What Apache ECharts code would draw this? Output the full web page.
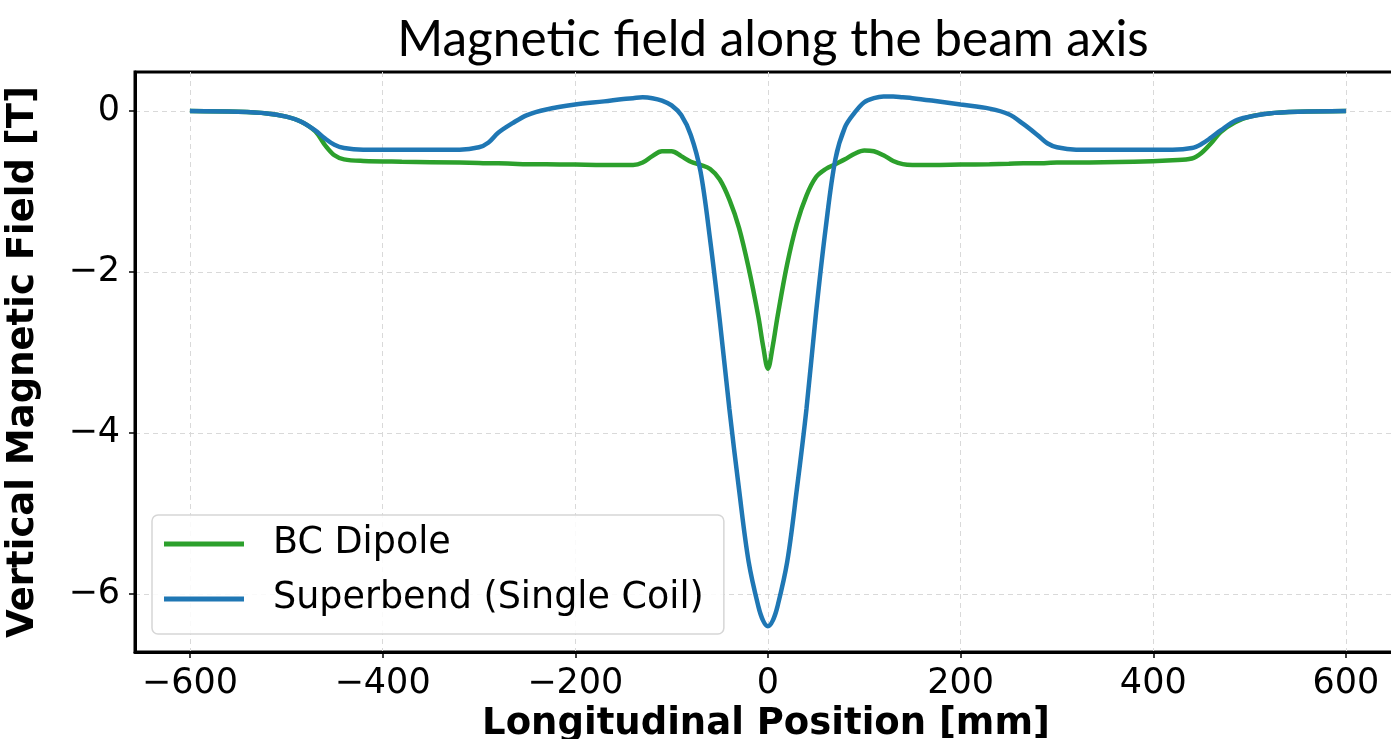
<!DOCTYPE html>
<html lang="en">
<head>
    <meta charset="UTF-8">
    <title>Magnetic field along the beam axis</title>
    <style>
        html, body { margin: 0; padding: 0; background: #fff; }
    </style>
</head>
<body>
    <div id="chart" style="width: 1391px;height:739px;"></div>
    <script src="https://cdn.jsdelivr.net/npm/echarts@6/dist/echarts.min.js"></script>
    <script>
        // positions along the beam axis [mm]
        var positions = [
            -600, -550, -520, -500, -485, -470, -460, -450, -440, -420, -380, -320,
            -300, -290, -280, -265, -250, -230, -200, -170, -150, -140, -130, -120,
            -110, -100, -90, -80, -70, -60, -50, -40, -30, -20, -10, -5, 0,
            5, 10, 20, 30, 40, 50, 60, 70, 80, 90, 100, 110, 120, 130, 140, 150,
            170, 200, 230, 250, 265, 280, 290, 300, 320, 380, 420, 440, 450, 460,
            470, 485, 500, 520, 550, 600
        ]
        // BC Dipole [T]
        var bcDipole = [
            0, -0.01, -0.03, -0.07, -0.13, -0.25, -0.42, -0.55, -0.6, -0.62, -0.63, -0.64,
            -0.645, -0.65, -0.65, -0.655, -0.66, -0.66, -0.665, -0.67, -0.67, -0.67, -0.64, -0.56,
            -0.5, -0.5, -0.56, -0.63, -0.67, -0.72, -0.85, -1.1, -1.45, -1.95, -2.55, -2.92, -3.2,
            -2.92, -2.55, -1.9, -1.4, -1.05, -0.82, -0.72, -0.66, -0.6, -0.53, -0.49, -0.5, -0.55, -0.62, -0.66, -0.67,
            -0.67, -0.665, -0.66, -0.655, -0.65, -0.65, -0.645, -0.64, -0.64, -0.63, -0.61, -0.59, -0.52, -0.4,
            -0.26, -0.14, -0.07, -0.03, -0.01, 0
        ]
        // Superbend (Single Coil) [T]
        var superbend = [
            0, -0.01, -0.03, -0.07, -0.13, -0.24, -0.34, -0.42, -0.46, -0.48, -0.48, -0.48,
            -0.45, -0.39, -0.27, -0.15, -0.05, 0.02, 0.08, 0.12, 0.15, 0.16, 0.17, 0.16,
            0.13, 0.07, -0.05, -0.3, -0.75, -1.6, -2.6, -3.7, -4.7, -5.6, -6.15, -6.33, -6.4,
            -6.33, -6.15, -5.6, -4.7, -3.7, -2.5, -1.45, -0.6, -0.2, -0.02, 0.11, 0.16, 0.18, 0.18, 0.17, 0.16,
            0.13, 0.08, 0.03, -0.04, -0.16, -0.3, -0.4, -0.45, -0.48, -0.48, -0.48, -0.46, -0.41, -0.33,
            -0.24, -0.12, -0.07, -0.03, -0.01, 0
        ]
        var xTicks = [-600, -400, -200, 0, 200, 400, 600]
        var yTicks = [-6, -4, -2, 0]

        var myChart = echarts.init(document.getElementById('chart'))

        function pairs(vals) {
            return positions.map(function (x, i) { return [x, vals[i]] })
        }
        function minus(v) {
            return String(v).replace('-', '\u2212')
        }

        var option = {
            backgroundColor: '#fff',
            animation: false,
            title: {
                text: 'Magnetic field along the beam axis',
                left: 768,
                textAlign: 'center',
                top: 10,
                textStyle: { fontFamily: 'Lato', fontWeight: 'normal', fontSize: 49.5, color: '#000' }
            },
            grid: {
                left: 135, top: 72, right: -6, bottom: 87,
                show: true, borderColor: '#000', borderWidth: 3,
                outerBoundsMode: 'none',
                containLabel: false
            },
            legend: {
                left: 152, top: 515,
                orient: 'vertical',
                icon: 'rect',
                itemWidth: 80, itemHeight: 5, itemGap: 11,
                padding: [7, 20, 13, 12],
                borderColor: '#d6d6d6', borderWidth: 1.5, borderRadius: 6,
                backgroundColor: 'rgba(255,255,255,0.85)',
                textStyle: {
                    fontFamily: 'DejaVu Sans', fontSize: 36.5, color: '#000',
                    lineHeight: 44, padding: [0, 0, 0, 24]
                },
                data: ['BC Dipole', 'Superbend (Single Coil)']
            },
            xAxis: {
                type: 'value',
                min: -657, max: 653,
                name: 'Longitudinal Position [mm]',
                nameLocation: 'middle',
                nameGap: 50,
                nameTextStyle: { fontFamily: 'DejaVu Sans', fontWeight: 'bold', fontSize: 37, color: '#000' },
                axisLine: { show: true, onZero: false, lineStyle: { color: '#000', width: 3 } },
                axisTick: { show: true, length: 6, customValues: xTicks, lineStyle: { color: '#000', width: 1.5 } },
                axisLabel: {
                    customValues: xTicks, margin: 14,
                    fontFamily: 'DejaVu Sans', fontSize: 35, color: '#000',
                    formatter: minus
                },
                splitLine: { show: true, lineStyle: { color: '#d9d9d9', width: 1, type: [5, 4] } }
            },
            yAxis: {
                type: 'value',
                min: -6.72, max: 0.485,
                name: 'Vertical Magnetic Field [T]',
                nameLocation: 'middle',
                nameGap: 93,
                nameRotate: 90,
                nameTextStyle: { fontFamily: 'DejaVu Sans', fontWeight: 'bold', fontSize: 37, color: '#000' },
                axisLine: { show: true, onZero: false, lineStyle: { color: '#000', width: 3 } },
                axisTick: { show: true, length: 6, customValues: yTicks, lineStyle: { color: '#000', width: 1.5 } },
                axisLabel: {
                    customValues: yTicks, margin: 15,
                    fontFamily: 'DejaVu Sans', fontSize: 35, color: '#000',
                    formatter: minus
                },
                splitLine: { show: true, lineStyle: { color: '#d9d9d9', width: 1, type: [5, 4] } }
            },
            series: [
                {
                    name: 'BC Dipole',
                    type: 'line',
                    data: pairs(bcDipole),
                    smooth: 0.35,
                    showSymbol: false,
                    color: '#2ca02c',
                    lineStyle: { width: 4.5, color: '#2ca02c' }
                },
                {
                    name: 'Superbend (Single Coil)',
                    type: 'line',
                    data: pairs(superbend),
                    smooth: 0.35,
                    showSymbol: false,
                    color: '#1f77b4',
                    lineStyle: { width: 4.5, color: '#1f77b4' }
                }
            ]
        }
        myChart.setOption(option)
    </script>
</body>
</html>
